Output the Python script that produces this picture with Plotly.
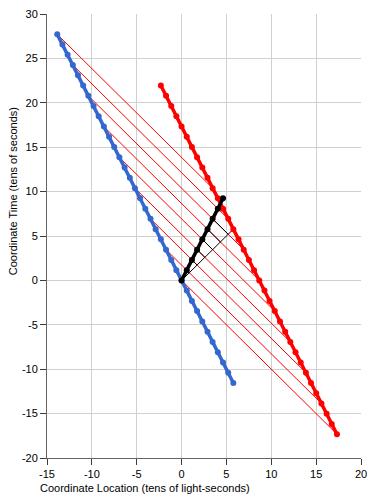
import plotly.graph_objects as go

# Worldline of the blue observer (dots every unit of its proper time)
blue_x = [5.77, 5.20, 4.62, 4.04, 3.46, 2.89, 2.31, 1.73, 1.15, 0.58, 0.00,
          -0.58, -1.15, -1.73, -2.31, -2.89, -3.46, -4.04, -4.62, -5.20, -5.77,
          -6.35, -6.93, -7.51, -8.08, -8.66, -9.24, -9.81, -10.39, -10.97, -11.55,
          -12.12, -12.70, -13.28, -13.86]
blue_t = [-11.55, -10.39, -9.24, -8.08, -6.93, -5.77, -4.62, -3.46, -2.31, -1.15, 0.00,
          1.15, 2.31, 3.46, 4.62, 5.77, 6.93, 8.08, 9.24, 10.39, 11.55,
          12.70, 13.86, 15.01, 16.17, 17.32, 18.48, 19.63, 20.78, 21.94, 23.09,
          24.25, 25.40, 26.56, 27.71]

# Worldline of the red observer
red_x = [17.32, 16.74, 16.17, 15.59, 15.01, 14.43, 13.86, 13.28, 12.70, 12.12, 11.55,
         10.97, 10.39, 9.81, 9.24, 8.66, 8.08, 7.51, 6.93, 6.35, 5.77,
         5.20, 4.62, 4.04, 3.46, 2.89, 2.31, 1.73, 1.15, 0.58, 0.00,
         -0.58, -1.15, -1.73, -2.31]
red_t = [-17.32, -16.17, -15.01, -13.86, -12.70, -11.55, -10.39, -9.24, -8.08, -6.93, -5.77,
         -4.62, -3.46, -2.31, -1.15, 0.00, 1.15, 2.31, 3.46, 4.62, 5.77,
         6.93, 8.08, 9.24, 10.39, 11.55, 12.70, 13.86, 15.01, 16.17, 17.32,
         18.48, 19.63, 20.78, 21.94]

# Worldline of the black observer
black_x = [0.00, 0.58, 1.15, 1.73, 2.31, 2.89, 3.46, 4.04, 4.62]
black_t = [0.00, 1.15, 2.31, 3.46, 4.62, 5.77, 6.93, 8.08, 9.24]

# Light signals red -> blue (emission and reception events)
sig_emit_x = [17.32, 15.59, 13.86, 12.12, 10.39, 8.66, 6.93, 5.20, 3.46]
sig_emit_t = [-17.32, -13.86, -10.39, -6.93, -3.46, 0.00, 3.46, 6.93, 10.39]
sig_recv_x = [0.00, -1.73, -3.46, -5.20, -6.93, -8.66, -10.39, -12.12, -13.86]
sig_recv_t = [0.00, 3.46, 6.93, 10.39, 13.86, 17.32, 20.78, 24.25, 27.71]

# Black construction lines: ray from origin to red, rungs from black dots to the ray
ray_x = [0.00, 5.77]
ray_t = [0.00, 5.77]
rung_from_x = [0.58, 1.15, 1.73, 2.31, 2.89, 3.46]
rung_from_t = [1.15, 2.31, 3.46, 4.62, 5.77, 6.93]
rung_to_x = [0.87, 1.73, 2.60, 3.46, 4.33, 5.20]
rung_to_t = [0.87, 1.73, 2.60, 3.46, 4.33, 5.20]

x_ticks = [-15, -10, -5, 0, 5, 10, 15, 20]
y_ticks = [-20, -15, -10, -5, 0, 5, 10, 15, 20, 25, 30]

BLUE = "rgb(52,104,206)"
RED = "rgb(255,0,0)"

fig = go.Figure()

sx, st = [], []
for a, b, c, d in zip(sig_emit_x, sig_emit_t, sig_recv_x, sig_recv_t):
    sx += [a, c, None]
    st += [b, d, None]
fig.add_trace(go.Scatter(x=sx, y=st, mode="lines",
                         line=dict(color=RED, width=1), hoverinfo="skip"))

bx, bt = list(ray_x) + [None], list(ray_t) + [None]
for a, b, c, d in zip(rung_from_x, rung_from_t, rung_to_x, rung_to_t):
    bx += [a, c, None]
    bt += [b, d, None]
fig.add_trace(go.Scatter(x=bx, y=bt, mode="lines",
                         line=dict(color="black", width=1), hoverinfo="skip"))

for xs, ts, col in [(blue_x, blue_t, BLUE), (red_x, red_t, RED), (black_x, black_t, "black")]:
    fig.add_trace(go.Scatter(x=xs, y=ts, mode="lines+markers",
                             line=dict(color=col, width=3.5),
                             marker=dict(color=col, size=6, symbol="circle")))

axis_common = dict(showgrid=True, gridcolor="rgb(208,208,208)", gridwidth=1,
                   zeroline=False, showline=True, linecolor="rgb(100,100,100)",
                   linewidth=1, ticks="outside", ticklen=6, tickcolor="rgb(60,60,60)",
                   tickfont=dict(family="Liberation Sans", size=11, color="black"),
                   mirror=False)

fig.update_xaxes(range=[-15, 20], tickvals=x_ticks, ticktext=[str(v) for v in x_ticks],
                 **axis_common)
fig.update_yaxes(range=[-20, 30], tickvals=y_ticks, ticktext=[str(v) for v in y_ticks],
                 **axis_common)

fig.add_annotation(text="Coordinate Location (tens of light-seconds)",
                   xref="paper", yref="paper", x=(145.5 - 47) / 315, y=-(488 - 458) / 450,
                   xanchor="center", yanchor="middle", showarrow=False,
                   font=dict(family="Liberation Sans", size=11, color="black"))
fig.add_annotation(text="Coordinate Time (tens of seconds)",
                   xref="paper", yref="paper", x=-(47 - 12.5) / 315, y=(458 - 188) / 450,
                   xanchor="center", yanchor="middle", showarrow=False, textangle=-90,
                   font=dict(family="Liberation Sans", size=11, color="black"))

fig.update_layout(width=375, height=498, showlegend=False,
                  margin=dict(l=47, r=13, t=8, b=40),
                  paper_bgcolor="white", plot_bgcolor="white")

fig.write_html("out.html",
               config={"displayModeBar": False},
               post_script="document.body.style.margin='0px';"
                           "document.documentElement.style.overflow='hidden';")
